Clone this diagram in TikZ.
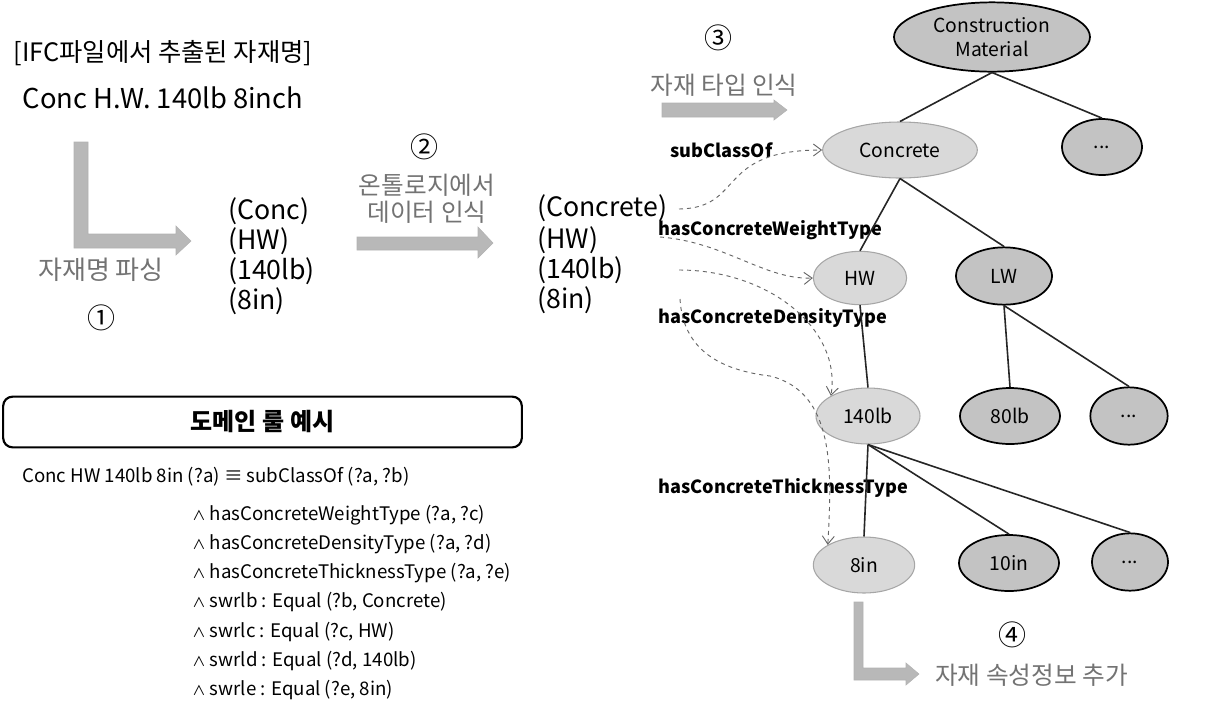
\documentclass[tikz,border=0pt]{standalone}
\usepackage{fontspec}
\setmainfont{Noto Sans CJK KR}
\usetikzlibrary{arrows.meta,shapes.geometric}
\definecolor{lbl}{gray}{0.45}
\definecolor{barfill}{gray}{0.72}
\definecolor{ellfill}{gray}{0.85}
\newcommand{\wdg}{{\fontsize{10}{12}\selectfont ∧}}
\begin{document}
\begin{tikzpicture}[x=0.75pt,y=-0.75pt,
  txt/.style={inner sep=0pt,anchor=west,font=\fontsize{20}{24}\selectfont},
  kor/.style={inner sep=0pt,text=lbl,font=\fontsize{18.5}{22}\selectfont},
  num/.style={inner sep=0pt,font=\fontsize{21}{24}\selectfont},
  rel/.style={inner sep=0pt,anchor=west,font=\bfseries\fontsize{13.6}{16}\selectfont},
  rule/.style={inner sep=0pt,anchor=west,font=\fontsize{14}{17}\selectfont},
  lite/.style={ellipse,draw=gray!70,line width=0.8pt,fill=ellfill,inner sep=0pt,font=\fontsize{14.5}{17}\selectfont,align=center},
  dark/.style={ellipse,draw=black,line width=1.3pt,fill=ellfill!90!black,inner sep=0pt,font=\fontsize{14.5}{17}\selectfont,align=center},
  edge/.style={line width=1.2pt,black!85},
  maparrow/.style={dashed,gray!80!black,line width=0.7pt,-{Straight Barb[length=6pt,width=9pt]}},
  bar/.style={fill=barfill,draw=gray!60,line width=0.4pt}]
\useasboundingbox (0,0) rectangle (1215,708);

% left texts
\node[inner sep=0pt,font=\fontsize{19}{22}\selectfont] (ifc) at (163,53) {[IFC파일에서 추출된 자재명]};
\node[inner sep=0pt,font=\fontsize{20.5}{24}\selectfont] (name) at (163,98) {Conc H.W. 140lb 8inch};

% arrow 1
\fill[bar] (74,142) -- (88,142) -- (88,234) -- (176,234) -- (176,226) -- (191,241) -- (176,255) -- (176,248) -- (74,248) -- cycle;
\node[kor,font=\fontsize{19.5}{22}\selectfont] (parse) at (101,270) {자재명 파싱};
\node[num] (n1) at (101,318) {①};

\node[txt] (a1) at (228,211) {(Conc)};
\node[txt] (a2) at (228,241) {(HW)};
\node[txt] (a3) at (228,271) {(140lb)};
\node[txt] (a4) at (228,301) {(8in)};

% step 2
\node[num] (n2) at (424,147) {②};
\node[kor] (onto1) at (427,185) {온톨로지에서};
\node[kor] (onto2) at (427,212) {데이터 인식};
\fill[bar] (357,237) -- (478,237) -- (478,227) -- (493,243) -- (478,258) -- (478,250) -- (357,250) -- cycle;

\node[txt] (b1) at (537,208) {(Concrete)};
\node[txt] (b2) at (537,240) {(HW)};
\node[txt] (b3) at (537,270) {(140lb)};
\node[txt] (b4) at (537,300) {(8in)};

% step 3
\node[num] (n3) at (718,38) {③};
\node[kor] (type) at (724,85) {자재 타입 인식};
\fill[bar] (662,103) -- (774,103) -- (774,100) -- (787,110) -- (774,120) -- (774,117) -- (662,117) -- cycle;

% relation labels
\node[rel] (l1) at (670,150) {subClassOf};
\node[rel] (l2) at (658,230) {hasConcreteWeightType};
\node[rel] (l3) at (658,318) {hasConcreteDensityType};
\node[rel] (l4) at (658,488) {hasConcreteThicknessType};

% tree
\node[dark,minimum width=147pt,minimum height=52pt] (cm) at (992,37) {Construction\\[1pt]Material};
\node[lite,minimum width=116pt,minimum height=42pt] (conc) at (900,150) {Concrete};
\node[dark,minimum width=60pt,minimum height=42pt] (d1) at (1102,147) {...};
\node[lite,minimum width=70pt,minimum height=40pt] (hw) at (860,278) {HW};
\node[dark,minimum width=72pt,minimum height=43pt] (lw) at (1004,276) {LW};
\node[lite,minimum width=78pt,minimum height=42pt] (lb140) at (868,416) {140lb};
\node[dark,minimum width=75pt,minimum height=42pt] (lb80) at (1010,416) {80lb};
\node[dark,minimum width=58pt,minimum height=43pt] (d2) at (1129,416) {...};
\node[lite,minimum width=76pt,minimum height=42pt] (in8) at (864,565) {8in};
\node[dark,minimum width=75pt,minimum height=42pt] (in10) at (1009,563) {10in};
\node[dark,minimum width=57pt,minimum height=43pt] (d3) at (1130,562) {...};

\draw[edge] (cm.south) -- (conc.north);
\draw[edge] (cm.south) -- (d1.north);
\draw[edge] (conc.south) -- (hw.north);
\draw[edge] (conc.south) -- (lw.north);
\draw[edge] (hw.south) -- (lb140.north);
\draw[edge] (lw.south) -- (lb80.north);
\draw[edge] (lw.south) -- (d2.north);
\draw[edge] (lb140.south) -- (in8.north);
\draw[edge] (lb140.south) -- (in10.north);
\draw[edge] (lb140.south) -- (d3.north);

% dashed mapping arrows
\coordinate (s1) at (679,209);
\coordinate (s2) at (660,237);
\coordinate (s3) at (679,270);
\coordinate (s4) at (680,299);
\draw[maparrow] (s1) .. controls (745,208) and (715,150) .. (conc.west);
\draw[maparrow] (s2) .. controls (725,242) and (765,280) .. (hw.west);
\draw[maparrow] (s3) .. controls (770,270) and (842,330) .. (lb140.north west);
\draw[maparrow] (s4) .. controls (683,350) and (720,370) .. (770,376) .. controls (835,392) and (832,470) .. (in8.north west);

% step 4
\fill[bar] (854,602) -- (863,602) -- (863,668) -- (906,668) -- (906,663) -- (919,674) -- (906,685) -- (906,680) -- (854,680) -- cycle;
\node[num] (n4) at (1012,635) {④};
\node[kor,anchor=west] (add) at (935,675) {자재 속성정보 추가};

% domain rule box
\node[draw=black,line width=1.6pt,rounded corners=7pt,minimum width=389pt,minimum height=38pt,inner sep=0pt,font=\bfseries\fontsize{18}{21}\selectfont] (box) at (262.5,422) {도메인 룰 예시};
\node[rule] (r0) at (22,477) {Conc HW 140lb 8in (?a) ≡ subClassOf (?a, ?b)};
\node[rule] (r1) at (192,515) {\wdg\ hasConcreteWeightType (?a, ?c)};
\node[rule] (r2) at (192,544) {\wdg\ hasConcreteDensityType (?a, ?d)};
\node[rule] (r3) at (192,573) {\wdg\ hasConcreteThicknessType (?a, ?e)};
\node[rule] (r4) at (192,602) {\wdg\ swrlb : Equal (?b, Concrete)};
\node[rule] (r5) at (192,632) {\wdg\ swrlc : Equal (?c, HW)};
\node[rule] (r6) at (192,661) {\wdg\ swrld : Equal (?d, 140lb)};
\node[rule] (r7) at (192,690) {\wdg\ swrle : Equal (?e, 8in)};
\end{tikzpicture}
\end{document}
